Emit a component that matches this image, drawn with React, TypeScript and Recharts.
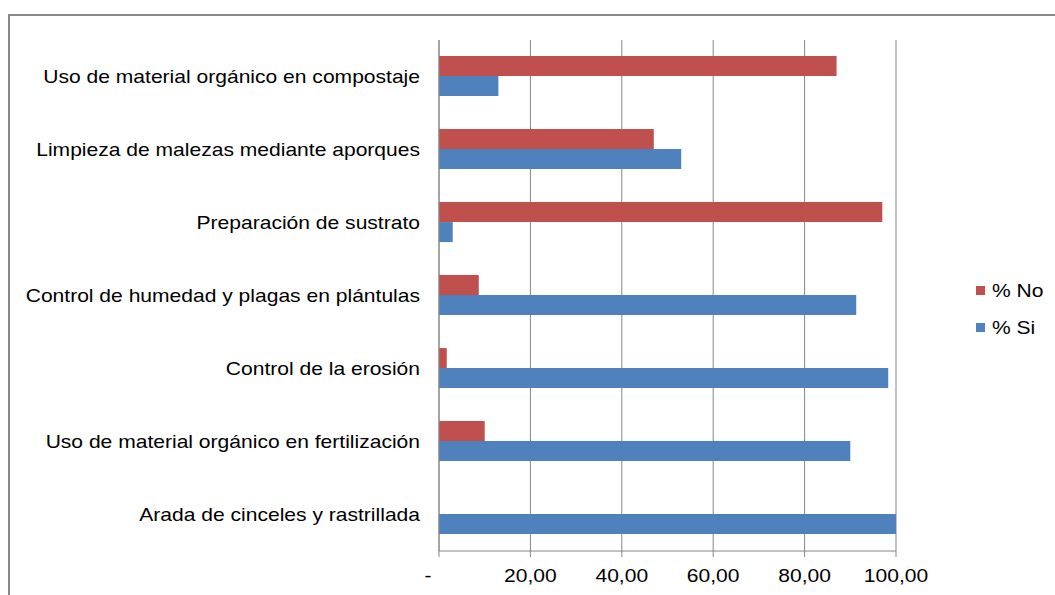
import React from "react";
import {
  BarChart, Bar, XAxis, YAxis, CartesianGrid, Legend,
} from "recharts";

// ─── Data ────────────────────────────────────────────────────────────────────

const PRACTICES = [
  "Uso de material orgánico en compostaje",
  "Limpieza de malezas mediante aporques",
  "Preparación de sustrato",
  "Control de humedad y plagas en plántulas",
  "Control de la erosión",
  "Uso de material orgánico en fertilización",
  "Arada de cinceles y rastrillada",
];

const PCT_NO = [87, 47, 97, 8.7, 1.7, 10, 0];
const PCT_SI = [13, 53, 3, 91.3, 98.3, 90, 100];

const X_TICKS = [0, 20, 40, 60, 80, 100];

const data = PRACTICES.map((name, i) => ({ name, no: PCT_NO[i], si: PCT_SI[i], idx: i }));

// ─── Styles ──────────────────────────────────────────────────────────────────

const RED   = "#C0504D";
const BLUE  = "#4F81BD";
const AXIS  = "#868686";
const FONT  = "'Liberation Sans', Arial, sans-serif";
const FSIZE = 18;
const SX    = 1.17; // text is drawn a little wide

const W = 1055;
const H = 595;

function WideText({ x, y, anchor, children }: { x: number; y: number; anchor: "start" | "middle" | "end"; children: React.ReactNode }) {
  return (
    <g transform={`translate(${x},${y}) scale(${SX},1)`}>
      <text x={0} y={0} textAnchor={anchor} dominantBaseline="central"
        fontSize={FSIZE} fontFamily={FONT} fill="#000">
        {children}
      </text>
    </g>
  );
}

function CategoryTick(props: any) {
  const { x, y, payload } = props;
  return <WideText x={x - 19} y={y} anchor="end">{payload.value}</WideText>;
}

function ValueTick(props: any) {
  const { x, y, payload } = props;
  const v = payload.value as number;
  const label = v === 0 ? "-" : v.toFixed(2).replace(".", ",");
  return <WideText x={v === 0 ? x - 11 : x} y={y + 17} anchor="middle">{label}</WideText>;
}

function LegendBox(props: any) {
  const items = (props.payload ?? []) as { value: string; color: string }[];
  return (
    <svg width={90} height={60}>
      {items.map((it, i) => (
        <g key={it.value}>
          <rect x={6} y={8 + i * 37} width={9} height={9} fill={it.color} />
          <WideText x={22} y={12.5 + i * 37} anchor="start">{it.value}</WideText>
        </g>
      ))}
    </svg>
  );
}

export default function App() {
  return (
    <div style={{ position: "absolute", left: 0, top: 0, width: W, height: H, background: "#fff", overflow: "hidden" }}>
      <div style={{
        position: "absolute", left: 8, top: 14, width: W, height: H,
        borderTop: "2px solid #898989", borderLeft: "2px solid #898989",
      }} />
      <div style={{ position: "absolute", left: 0, top: 0 }}>
        <BarChart
          width={W} height={H} data={data} layout="vertical"
          margin={{ top: 40, right: 159, bottom: 0, left: 0 }}
          barCategoryGap="22%" barGap={0}
        >
          <CartesianGrid horizontal={false} stroke={AXIS} />
          <XAxis
            type="number" domain={[0, 100]} ticks={X_TICKS} height={44}
            axisLine={{ stroke: AXIS }} tickLine={{ stroke: AXIS }} tickSize={6}
            tick={<ValueTick />} interval={0}
          />
          <YAxis
            type="category" dataKey="name" width={439}
            axisLine={{ stroke: AXIS }} tickLine={false} tickSize={0} tickMargin={0}
            tick={<CategoryTick />} interval={0}
          />
          {/* boundary tick marks between categories */}
          <YAxis
            yAxisId="bounds" type="number" domain={[0, PRACTICES.length]} reversed
            ticks={Array.from({ length: PRACTICES.length + 1 }, (_, i) => i)}
            width={0} axisLine={false} tickLine={{ stroke: AXIS }} tickSize={6}
            tick={() => <g />} interval={0}
          />
          <Legend
            layout="horizontal" verticalAlign="middle" align="center"
            wrapperStyle={{ left: 970, top: 278, width: 90 }}
            content={<LegendBox />}
          />
          <Bar dataKey="no" name="% No" fill={RED} isAnimationActive={false} />
          <Bar dataKey="si" name="% Si" fill={BLUE} isAnimationActive={false} />
        </BarChart>
      </div>
    </div>
  );
}
